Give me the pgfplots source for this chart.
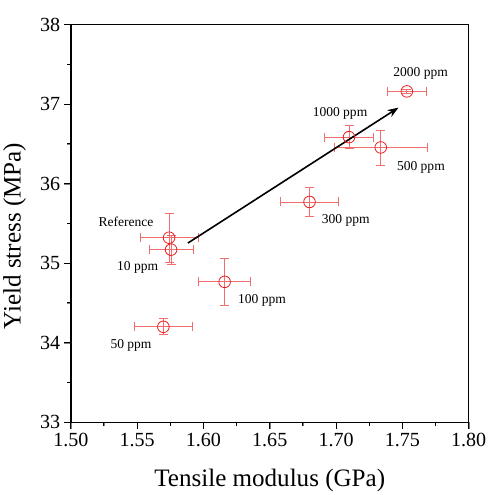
\documentclass[border=0pt]{standalone}
\usepackage{pgfplots}
\pgfplotsset{compat=1.18}
\usepackage{pgfplotstable}
\usepackage{fontspec}
\setmainfont{Liberation Serif}
\usetikzlibrary{arrows.meta}
\definecolor{ptred}{RGB}{235,30,30}
\definecolor{errred}{RGB}{240,110,110}

\pgfplotstableread{
x      y      ex     ey
1.5741 35.32  0.022  0.31
1.5756 35.17  0.0166 0.18
1.5698 34.20  0.022  0.10
1.6160 34.765 0.0195 0.29
1.6800 35.77  0.022  0.18
1.7337 36.455 0.035  0.22
1.7098 36.585 0.0184 0.145
1.7534 37.16  0.015  0.03
}\datatable

\begin{document}
\begin{tikzpicture}
\begin{axis}[
  scale only axis,
  width=396.7pt, height=396.5pt,
  xmin=1.50, xmax=1.80, ymin=33, ymax=38,
  xtick={1.50,1.55,1.60,1.65,1.70,1.75,1.80},
  ytick={33,34,35,36,37,38},
  minor x tick num=1, minor y tick num=1,
  xtick pos=bottom, ytick pos=left,
  tick align=outside,
  major tick length=7pt, minor tick length=4pt,
  xticklabels={1.50,1.55,1.60,1.65,1.70,1.75,1.80},
  yticklabels={33,34,35,36,37,38},
  tick label style={font=\fontsize{20}{24}\selectfont},
  xlabel={Tensile modulus (GPa)},
  ylabel={Yield stress (MPa)},
  label style={font=\fontsize{25}{30}\selectfont},
  xlabel style={at={(axis description cs:0.5,-0.146)}, anchor=center},
  ylabel style={at={(axis description cs:-0.141,0.468)}, anchor=center},
  clip=false,
]
\addplot[
  only marks, mark=o, mark size=5.8pt, color=errred, line width=0.8pt,
  mark options={draw=ptred, line width=0.8pt, fill=white},
  error bars/x dir=both, error bars/x explicit,
  error bars/y dir=both, error bars/y explicit,
  error bars/error bar style={color=errred, line width=0.8pt},
  error bars/error mark options={color=errred, line width=0.8pt, mark size=4.5pt, rotate=90},
] table[x=x, y=y, x error=ex, y error=ey] {\datatable};

% frame and ticks
\draw[black, line width=1pt] (rel axis cs:0,0) rectangle (rel axis cs:1,1);
\pgfplotsinvokeforeach{1.50,1.55,1.60,1.65,1.70,1.75,1.80}{
  \draw[black, line width=1pt] (axis cs:#1,33) -- ++(0pt,-7pt);
}
\pgfplotsinvokeforeach{1.525,1.575,1.625,1.675,1.725,1.775}{
  \draw[black, line width=1pt] (axis cs:#1,33) -- ++(0pt,-4pt);
}
\pgfplotsinvokeforeach{33,34,35,36,37,38}{
  \draw[black, line width=1pt] (axis cs:1.5,#1) -- ++(-7pt,0pt);
}
\pgfplotsinvokeforeach{33.5,34.5,35.5,36.5,37.5}{
  \draw[black, line width=1pt] (axis cs:1.5,#1) -- ++(-4pt,0pt);
}
\path (rel axis cs:0,1) ++(0pt,24.5pt);

\draw[line width=1.6pt, -{Stealth[length=11pt,width=8pt]}] (axis cs:1.5883,35.253) -- (axis cs:1.7471,36.956);

\node[font=\fontsize{13.5}{16}\selectfont, inner sep=0pt] at (axis cs:1.7638,37.39) {2000 ppm};
\node[font=\fontsize{13.5}{16}\selectfont, inner sep=0pt] at (axis cs:1.7030,36.88) {1000 ppm};
\node[font=\fontsize{13.5}{16}\selectfont, inner sep=0pt] at (axis cs:1.7640,36.20) {500 ppm};
\node[font=\fontsize{13.5}{16}\selectfont, inner sep=0pt] at (axis cs:1.7073,35.535) {300 ppm};
\node[font=\fontsize{13.5}{16}\selectfont, inner sep=0pt] at (axis cs:1.6442,34.535) {100 ppm};
\node[font=\fontsize{13.5}{16}\selectfont, inner sep=0pt] at (axis cs:1.5454,33.96) {50 ppm};
\node[font=\fontsize{13.5}{16}\selectfont, inner sep=0pt] at (axis cs:1.5504,34.946) {10 ppm};
\node[font=\fontsize{13.5}{16}\selectfont, inner sep=0pt] at (axis cs:1.5416,35.526) {Reference};
\end{axis}
\end{tikzpicture}
\end{document}
